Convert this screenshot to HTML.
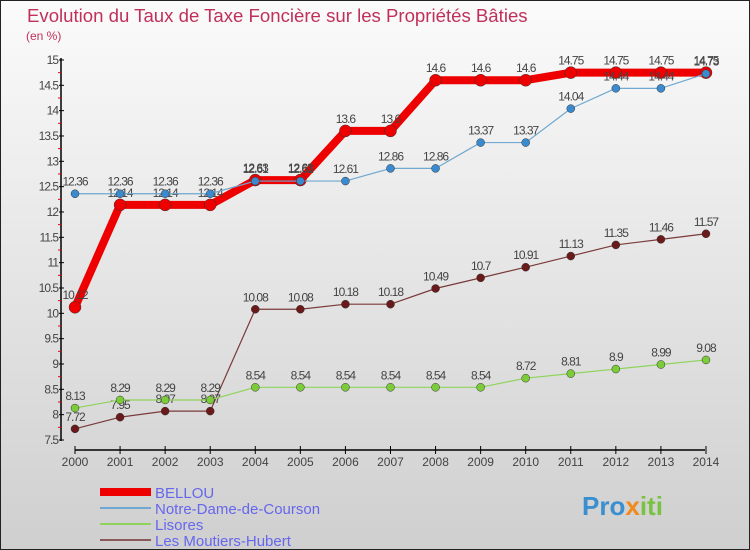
<!DOCTYPE html>
<html><head><meta charset="utf-8"><style>
body{margin:0}
#c{width:750px;height:550px;position:relative;overflow:hidden;font-family:"Liberation Sans",sans-serif}
</style></head><body>
<div id="c">
<svg width="750" height="550" id="svg">
<defs><linearGradient id="bg" x1="0" y1="0" x2="0" y2="1"><stop offset="0" stop-color="#fbfbfb"/><stop offset="1" stop-color="#cfcfcf"/></linearGradient></defs>
<rect x="0.5" y="0.5" width="749" height="549" fill="url(#bg)" stroke="#222"/>
<text x="27" y="22" font-size="18.6" fill="#c0305a">Evolution du Taux de Taxe Foncière sur les Propriétés Bâties</text>
<text x="26" y="40" font-size="12" fill="#c0305a">(en %)</text>
<g id="axes"></g><g id="series"></g><g id="legend"></g>
<text x="582" y="515" font-size="26" font-weight="bold" fill="#3a8fd0">Pro<tspan fill="#f08a1c">x</tspan><tspan fill="#7cc242">iti</tspan></text>
</svg></div>
<script>
const years=[2000,2001,2002,2003,2004,2005,2006,2007,2008,2009,2010,2011,2012,2013,2014];
const yTicks=[7.5,8,8.5,9,9.5,10,10.5,11,11.5,12,12.5,13,13.5,14,14.5,15];
const bellou=[10.12,12.14,12.14,12.14,12.63,12.63,13.6,13.6,14.6,14.6,14.6,14.75,14.75,14.75,14.75];
const notreDame=[12.36,12.36,12.36,12.36,12.61,12.61,12.61,12.86,12.86,13.37,13.37,14.04,14.44,14.44,14.73];
const lisores=[8.13,8.29,8.29,8.29,8.54,8.54,8.54,8.54,8.54,8.54,8.72,8.81,8.9,8.99,9.08];
const moutiers=[7.72,7.95,8.07,8.07,10.08,10.08,10.18,10.18,10.49,10.7,10.91,11.13,11.35,11.46,11.57];
const NS='http://www.w3.org/2000/svg';
function X(i){return 75+i*45.07;}
function Y(v){return 440-(v-7.5)*50.67;}
function mk(tag,attrs,parent,text){const e=document.createElementNS(NS,tag);for(const k in attrs)e.setAttribute(k,attrs[k]);if(text!==undefined)e.textContent=text;parent.appendChild(e);return e;}
const ax=document.getElementById('axes');
let e=mk('line',{x1:61,y1:58,x2:61,y2:441,stroke:'#000','stroke-width':1.5},ax);

e=mk('line',{x1:75,y1:450,x2:705,y2:450,stroke:'#000','stroke-width':1.5},ax);

yTicks.forEach(v=>{
 mk('line',{x1:59,y1:Y(v),x2:64,y2:Y(v),stroke:'#000'},ax);
 if(v<15)mk('line',{x1:58,y1:Y(v+0.25),x2:61,y2:Y(v+0.25),stroke:'#e00'},ax);
 const t=mk('text',{x:58,y:Y(v)+4,'font-size':12,fill:'#444','text-anchor':'end','letter-spacing':'-1'},ax,String(v));
 
});
years.forEach((y,i)=>{
 mk('line',{x1:X(i),y1:446,x2:X(i),y2:454,stroke:'#000'},ax);
 const t=mk('text',{x:X(i),y:466,'font-size':12,fill:'#444','text-anchor':'middle'},ax,String(y));
 
});
const sg=document.getElementById('series');
function series(vals,color,w,r,name,fill){
 const g=mk('g',{},sg);
 
 mk('polyline',{points:vals.map((v,i)=>X(i)+','+Y(v)).join(' '),fill:'none',stroke:color,'stroke-width':w,'stroke-linejoin':'round'},g);
 vals.forEach((v,i)=>{
  const c=mk('circle',{cx:X(i),cy:Y(v),r:r,fill:fill,stroke:'#333','stroke-width':0.5},g);
  
  const t=mk('text',{x:X(i),y:Y(v)-8,'font-size':12,fill:'#444','text-anchor':'middle','letter-spacing':'-1'},g,String(v));
  
 });
}
series(moutiers,'#7a3a3a',1.2,4,'moutiers-series','#6a1a1a');
series(lisores,'#8ed45a',1.2,4,'lisores-series','#7ccc3a');
series(bellou,'#ee0000',8,6,'bellou-series','#ee0000');
series(notreDame,'#6fa8d0',1.2,4,'notre-dame-series','#3a8ad0');
const lg=document.getElementById('legend');
const L=[['BELLOU','#ee0000',8],['Notre-Dame-de-Courson','#6fa8d0',2],['Lisores','#8ed45a',2],['Les Moutiers-Hubert','#8a5a5a',2]];
L.forEach((l,i)=>{
 const yy=492+i*16;
 const g=mk('g',{},lg);
 
 mk('line',{x1:100,y1:yy,x2:151,y2:yy,stroke:l[1],'stroke-width':l[2]},g);
 mk('text',{x:155,y:yy+6,'font-size':15,fill:'#6666ee'},g,l[0]);
});
</script>
</body></html>
